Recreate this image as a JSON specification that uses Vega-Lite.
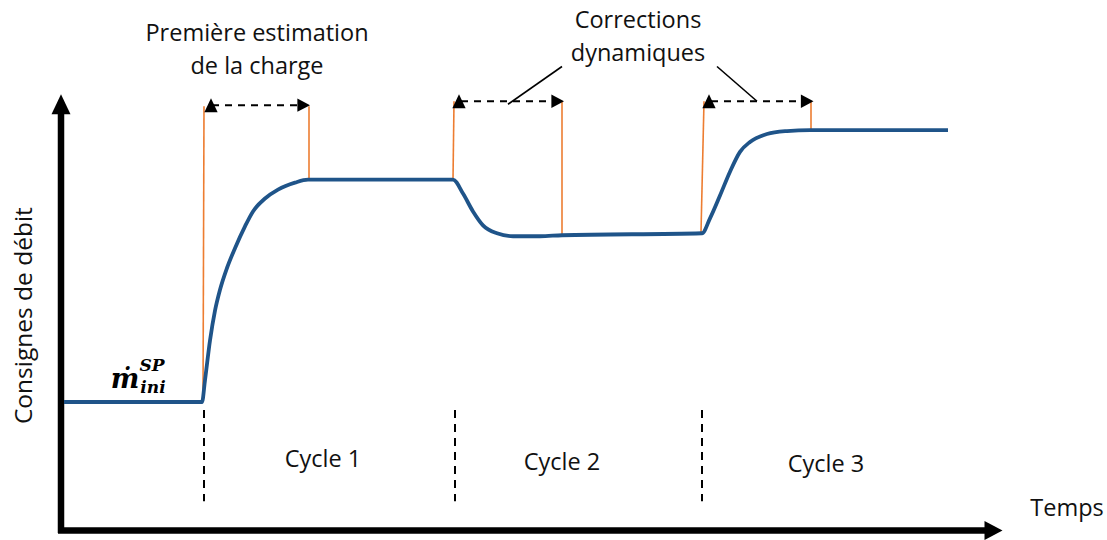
{
  "$schema": "https://vega.github.io/schema/vega-lite/v6.json",
  "width": 1107,
  "height": 540,
  "padding": 0,
  "autosize": {"type": "fit", "contains": "padding"},
  "background": "white",
  "config": {"view": {"stroke": null}},
  "datasets": {
    "curve": [
      {"t": 64, "q": 135}, {"t": 202, "q": 135}, {"t": 205, "q": 157}, {"t": 210, "q": 197},
      {"t": 215, "q": 227}, {"t": 220, "q": 248}, {"t": 227, "q": 270}, {"t": 235, "q": 290},
      {"t": 245, "q": 312}, {"t": 253, "q": 327}, {"t": 265, "q": 340}, {"t": 278, "q": 349},
      {"t": 295, "q": 356}, {"t": 308, "q": 359},
      {"t": 453, "q": 359}, {"t": 463, "q": 345}, {"t": 473, "q": 327}, {"t": 483, "q": 313},
      {"t": 497, "q": 305}, {"t": 513, "q": 302}, {"t": 540, "q": 302}, {"t": 562, "q": 303},
      {"t": 702, "q": 305}, {"t": 710, "q": 320}, {"t": 720, "q": 343}, {"t": 730, "q": 367},
      {"t": 740, "q": 387}, {"t": 750, "q": 397}, {"t": 767, "q": 405}, {"t": 787, "q": 408},
      {"t": 810, "q": 409}, {"t": 948, "q": 409}
    ],
    "orange": [
      {"t": 204, "q": 433, "t2": 203, "q2": 135},
      {"t": 309, "q": 433, "t2": 309, "q2": 359},
      {"t": 454, "q": 438, "t2": 453, "q2": 359},
      {"t": 562, "q": 438, "t2": 562, "q2": 304},
      {"t": 704, "q": 438, "t2": 701, "q2": 306},
      {"t": 811, "q": 438, "t2": 811, "q2": 410}
    ],
    "spans": [
      {"t": 212, "t2": 302, "q": 434, "q2": 434},
      {"t": 461, "t2": 556, "q": 438, "q2": 438},
      {"t": 711, "t2": 805, "q": 438, "q2": 438}
    ],
    "heads": [
      {"t": 211, "q": 434, "dir": "left"}, {"t": 303, "q": 434, "dir": "right"},
      {"t": 459, "q": 438, "dir": "left"}, {"t": 557, "q": 438, "dir": "right"},
      {"t": 709, "q": 438, "dir": "left"}, {"t": 806.5, "q": 438, "dir": "right"}
    ],
    "leaders": [
      {"t": 508, "q": 435, "t2": 562, "q2": 473},
      {"t": 757, "q": 438, "t2": 717, "q2": 473}
    ],
    "cycles": [
      {"t": 204, "q": 127, "t2": 204, "q2": 35},
      {"t": 455, "q": 127, "t2": 455, "q2": 35},
      {"t": 702, "q": 127, "t2": 702, "q2": 35}
    ],
    "axes": [
      {"t": 61, "q": 3, "t2": 61, "q2": 428},
      {"t": 58, "q": 5.5, "t2": 988, "q2": 5.5}
    ],
    "axisHeads": [
      {"t": 61, "q": 435, "dir": "up"},
      {"t": 992.5, "q": 5.5, "dir": "right"}
    ],
    "labels": [
      {"label": "Première estimation", "t": 257, "q": 506},
      {"label": "de la charge", "t": 257, "q": 472},
      {"label": "Corrections", "t": 638, "q": 519},
      {"label": "dynamiques", "t": 638, "q": 486},
      {"label": "Cycle 1", "t": 323, "q": 77},
      {"label": "Cycle 2", "t": 562, "q": 74},
      {"label": "Cycle 3", "t": 826, "q": 72},
      {"label": "Temps", "t": 1067, "q": 27}
    ],
    "ylabel": [{"label": "Consignes de débit", "t": 25, "q": 222}],
    "mdot": [{"label": "ṁ", "t": 125, "q": 157}],
    "msup": [{"label": "SP", "t": 152, "q": 171}],
    "msub": [{"label": "ini", "t": 153, "q": 149}]
  },
  "encoding": {
    "x": {"field": "t", "type": "quantitative", "axis": null, "scale": {"domain": [0, 1107], "nice": false, "zero": false}},
    "y": {"field": "q", "type": "quantitative", "axis": null, "scale": {"domain": [0, 540], "nice": false, "zero": false}}
  },
  "layer": [
    {
      "data": {"name": "axes"},
      "mark": {"type": "rule", "color": "black", "strokeWidth": 6.5},
      "encoding": {"x2": {"field": "t2"}, "y2": {"field": "q2"}}
    },
    {
      "data": {"name": "axisHeads"},
      "mark": {"type": "point", "filled": true, "color": "black", "opacity": 1, "size": 400},
      "encoding": {
        "shape": {"field": "dir", "type": "nominal", "legend": null,
          "scale": {"domain": ["up", "right"], "range": ["M0,-1L-0.95,1L0.95,1Z", "M1,0L-0.8,-0.95L-0.8,0.95Z"]}}
      }
    },
    {
      "data": {"name": "cycles"},
      "mark": {"type": "rule", "color": "black", "strokeWidth": 2, "strokeDash": [8, 6]},
      "encoding": {"x2": {"field": "t2"}, "y2": {"field": "q2"}}
    },
    {
      "data": {"name": "orange"},
      "mark": {"type": "rule", "color": "#ED7D31", "strokeWidth": 1.6},
      "encoding": {"x2": {"field": "t2"}, "y2": {"field": "q2"}}
    },
    {
      "data": {"name": "curve"},
      "mark": {"type": "line", "color": "#1F5489", "strokeWidth": 3.8, "interpolate": "monotone"},
      "encoding": {"order": {"field": "t", "type": "quantitative"}}
    },
    {
      "data": {"name": "spans"},
      "mark": {"type": "rule", "color": "black", "strokeWidth": 2, "strokeDash": [7, 6]},
      "encoding": {"x2": {"field": "t2"}, "y2": {"field": "q2"}}
    },
    {
      "data": {"name": "heads"},
      "mark": {"type": "point", "filled": true, "color": "black", "opacity": 1, "size": 196},
      "encoding": {
        "shape": {"field": "dir", "type": "nominal", "legend": null,
          "scale": {"domain": ["left", "right"], "range": ["M-0.72,0L0.72,-1L0.72,1Z", "M0.72,0L-0.72,-1L-0.72,1Z"]}}
      }
    },
    {
      "data": {"name": "leaders"},
      "mark": {"type": "rule", "color": "black", "strokeWidth": 1.6},
      "encoding": {"x2": {"field": "t2"}, "y2": {"field": "q2"}}
    },
    {
      "data": {"name": "labels"},
      "mark": {"type": "text", "font": "Open Sans", "fontSize": 23.5, "color": "#111111", "align": "center", "baseline": "middle"},
      "encoding": {"text": {"field": "label"}}
    },
    {
      "data": {"name": "ylabel"},
      "mark": {"type": "text", "font": "Open Sans", "fontSize": 24.5, "color": "#111111", "align": "center", "baseline": "middle", "angle": 270},
      "encoding": {"text": {"field": "label"}}
    },
    {
      "data": {"name": "mdot"},
      "mark": {"type": "text", "font": "DejaVu Serif", "fontSize": 27, "fontWeight": "bold", "fontStyle": "italic", "color": "black", "align": "center", "baseline": "middle"},
      "encoding": {"text": {"field": "label"}}
    },
    {
      "data": {"name": "msup"},
      "mark": {"type": "text", "font": "DejaVu Serif", "fontSize": 17, "fontWeight": "bold", "fontStyle": "italic", "color": "black", "align": "center", "baseline": "middle"},
      "encoding": {"text": {"field": "label"}}
    },
    {
      "data": {"name": "msub"},
      "mark": {"type": "text", "font": "DejaVu Serif", "fontSize": 17, "fontWeight": "bold", "fontStyle": "italic", "color": "black", "align": "center", "baseline": "middle"},
      "encoding": {"text": {"field": "label"}}
    }
  ]
}
